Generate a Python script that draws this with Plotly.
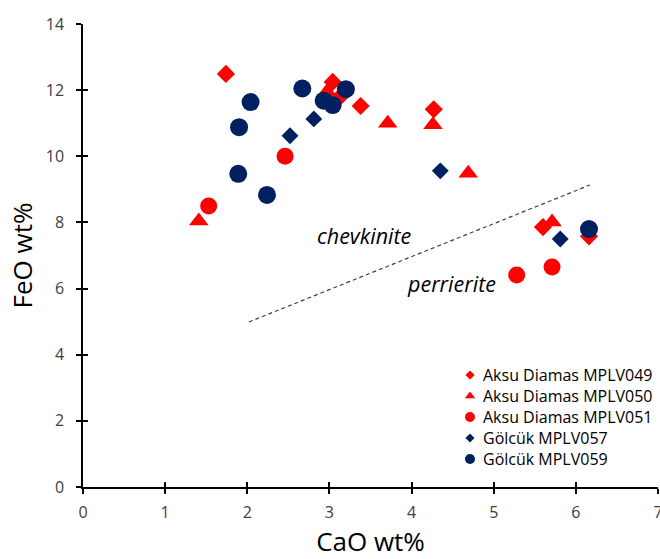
import plotly.graph_objects as go

# Data (CaO wt%, FeO wt%)
aksu049_x = [1.74, 3.04, 3.15, 3.38, 4.27, 5.60, 6.16]
aksu049_y = [12.49, 12.25, 11.85, 11.52, 11.42, 7.86, 7.58]
aksu050_x = [1.41, 2.97, 3.71, 4.26, 4.69, 5.71]
aksu050_y = [8.04, 11.95, 11.00, 10.95, 9.49, 8.01]
aksu051_x = [1.53, 2.46, 5.28, 5.71]
aksu051_y = [8.50, 10.00, 6.41, 6.65]
golcuk057_x = [2.52, 2.81, 4.35, 5.81]
golcuk057_y = [10.62, 11.13, 9.56, 7.50]
golcuk059_x = [1.89, 1.90, 2.04, 2.24, 2.67, 2.93, 3.04, 3.20, 6.16]
golcuk059_y = [9.47, 10.88, 11.64, 8.83, 12.05, 11.68, 11.55, 12.03, 7.80]
divider_x = [2.02, 6.17]
divider_y = [4.99, 9.13]

RED = "#ff0000"
NAVY = "#002060"
FONT = "Open Sans, sans-serif"

# layout constants (pixels)
W, H = 660, 559
ML, MR, MT, MB = 83, 2, 24, 72
PW, PH = W - ML - MR, H - MT - MB
LEG_MARK_X, LEG_TEXT_X, LEG_TOP_Y, LEG_DY = 470, 481, 375, 21

fig = go.Figure()
fig.add_trace(go.Scatter(x=divider_x, y=divider_y, mode="lines",
                         line=dict(color="#404040", width=1.2, dash="4px,3px"),
                         showlegend=False, hoverinfo="skip"))
series = [
    ("Aksu Diamas MPLV049", aksu049_x, aksu049_y, RED, "diamond", 14, 7),
    ("Aksu Diamas MPLV050", aksu050_x, aksu050_y, RED, "triangle-up", 17, 9),
    ("Aksu Diamas MPLV051", aksu051_x, aksu051_y, RED, "circle", 17, 10),
    ("Gölcük MPLV057", golcuk057_x, golcuk057_y, NAVY, "diamond", 13, 7),
    ("Gölcük MPLV059", golcuk059_x, golcuk059_y, NAVY, "circle", 18, 10),
]
for name, xs, ys, col, sym, sz, lsz in series:
    fig.add_trace(go.Scatter(x=xs, y=ys, mode="markers", name=name, showlegend=False,
                             marker=dict(color=col, symbol=sym, size=sz,
                                         line=dict(width=0))))

# legend drawn on a pixel-based overlay axis
for i, (name, xs, ys, col, sym, sz, lsz) in enumerate(series):
    yy = LEG_TOP_Y + i * LEG_DY
    fig.add_trace(go.Scatter(x=[LEG_MARK_X], y=[yy], mode="markers", name=name,
                             xaxis="x3", yaxis="y3", showlegend=False, hoverinfo="skip",
                             marker=dict(color=col, symbol=sym, size=lsz, line=dict(width=0))))
    fig.add_annotation(xref="x3", yref="y3", x=LEG_TEXT_X, y=yy, text=name,
                       showarrow=False, xanchor="left", yanchor="middle",
                       font=dict(size=16, color="black", family=FONT))

fig.add_annotation(x=3.43, y=7.59, text="<i>chevkinite</i>", showarrow=False,
                   font=dict(size=21.5, color="black", family=FONT))
fig.add_annotation(x=4.49, y=6.14, text="<i>perrierite</i>", showarrow=False,
                   font=dict(size=21.5, color="black", family=FONT))

axis_common = dict(showgrid=False, zeroline=False, showline=True,
                   linecolor="black", linewidth=1.5, ticks="outside",
                   ticklen=5, tickwidth=1.5, tickcolor="black",
                   ticklabeloverflow="allow", automargin=False,
                   tickfont=dict(size=16, color="#404040", family=FONT))
hidden = dict(showgrid=False, zeroline=False, showline=False, showticklabels=False,
              ticks="")
fig.update_layout(
    width=W, height=H,
    margin=dict(l=ML, r=MR, t=MT, b=MB),
    plot_bgcolor="white", paper_bgcolor="white",
    font=dict(family=FONT, color="black"),
    xaxis=dict(range=[0, 7], dtick=1, ticklabelstandoff=5,
               title=dict(text="CaO wt%", font=dict(size=26), standoff=21),
               **axis_common),
    yaxis=dict(range=[0, 14], dtick=2, ticklabelstandoff=9,
               title=dict(text="FeO wt%", font=dict(size=26), standoff=6),
               **axis_common),
    xaxis2=dict(range=[0, 7], dtick=1, overlaying="x", showgrid=False, zeroline=False,
                showline=False, ticks="inside", ticklen=5, tickwidth=1.5, tickcolor="black",
                showticklabels=False, anchor="y", side="bottom"),
    yaxis2=dict(range=[0, 14], dtick=2, overlaying="y", showgrid=False, zeroline=False,
                showline=False, ticks="inside", ticklen=5, tickwidth=1.5, tickcolor="black",
                showticklabels=False, anchor="x", side="left"),
    xaxis3=dict(range=[ML, ML + PW], overlaying="x", anchor="y3", **hidden),
    yaxis3=dict(range=[MT + PH, MT], overlaying="y", anchor="x3", **hidden),
    showlegend=False,
)
# dummy trace to activate the secondary axes for cross ticks
fig.add_trace(go.Scatter(x=[None], y=[None], xaxis="x2", yaxis="y2", showlegend=False))

fig.write_html("out.html")
